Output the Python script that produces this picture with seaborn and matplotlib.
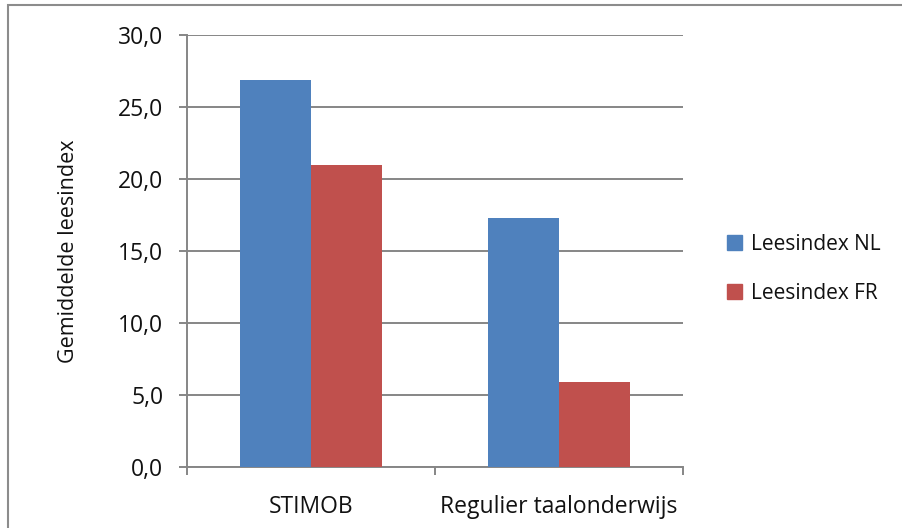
import matplotlib
matplotlib.use("Agg")
import matplotlib.pyplot as plt
import matplotlib.patches as mpatches
from matplotlib.ticker import FuncFormatter, FixedLocator
import seaborn as sns
import pandas as pd

categories = ["STIMOB", "Regulier taalonderwijs"]
series_names = ["Leesindex NL", "Leesindex FR"]
nl_values = [26.9, 17.3]
fr_values = [21.0, 5.9]
y_ticks = [0, 5, 10, 15, 20, 25, 30]
y_label = "Gemiddelde leesindex"

colors = ["#4F81BD", "#C0504D"]

df = pd.DataFrame({
    "cat": categories * 2,
    "series": [series_names[0]] * 2 + [series_names[1]] * 2,
    "value": nl_values + fr_values,
})

sns.set_style("white")
plt.rcParams["font.family"] = ["Open Sans", "DejaVu Sans"]

fig = plt.figure(figsize=(9.03, 5.28), dpi=100)
ax = fig.add_axes([187 / 903, 61 / 528, 496 / 903, 432 / 528])

sns.barplot(data=df, x="cat", y="value", hue="series", palette=colors,
            width=0.57, ax=ax, saturation=1, errorbar=None, zorder=3)

for p in ax.patches:
    p.set_edgecolor("none")

ax.set_ylim(0, 30)
ax.set_xlim(-0.5, 1.5)
ax.set_yticks(y_ticks)
ax.yaxis.set_major_formatter(FuncFormatter(lambda v, _: f"{v:.1f}".replace(".", ",")))
ax.yaxis.grid(True, color="#868686", linewidth=1.4, zorder=0)
ax.set_axisbelow(True)

grey = "#868686"
for s in ["top", "right"]:
    ax.spines[s].set_visible(False)
ax.spines["left"].set_color(grey)
ax.spines["left"].set_linewidth(1.4)
ax.spines["bottom"].set_color(grey)
ax.spines["bottom"].set_linewidth(1.4)

ax.tick_params(axis="y", which="major", direction="out", length=6, width=1.4,
               color=grey, pad=11, labelsize=16.5, left=True, labelcolor="#111111")
ax.tick_params(axis="x", which="major", length=0, pad=20, labelsize=16.5, labelcolor="#111111")
ax.xaxis.set_minor_locator(FixedLocator([-0.5, 0.5, 1.5]))
ax.tick_params(axis="x", which="minor", direction="out", length=6, width=1.4,
               color=grey, bottom=True)

ax.set_xlabel("")
ax.set_ylabel(y_label, fontsize=15.5, color="#111111")
ax.yaxis.set_label_coords(-0.218, 0.5)

ax.legend_.remove()
handles = [mpatches.Patch(color=c, label=n) for c, n in zip(colors, series_names)]
leg = fig.legend(handles=handles, loc="center left", bbox_to_anchor=(708 / 903, 1 - 269 / 528),
                 frameon=False, prop={"size": 15},
                 handlelength=0.75, handleheight=0.75, handletextpad=0.4, labelspacing=1.35,
                 labelcolor="#111111")

border = mpatches.Rectangle((8 / 903, -0.5), 2.0, 0.5 + 1 - 5 / 528, transform=fig.transFigure,
                            fill=False, edgecolor="#8c8c8c", linewidth=1.5)
fig.patches.append(border)

fig.savefig("out.png", dpi=100)
